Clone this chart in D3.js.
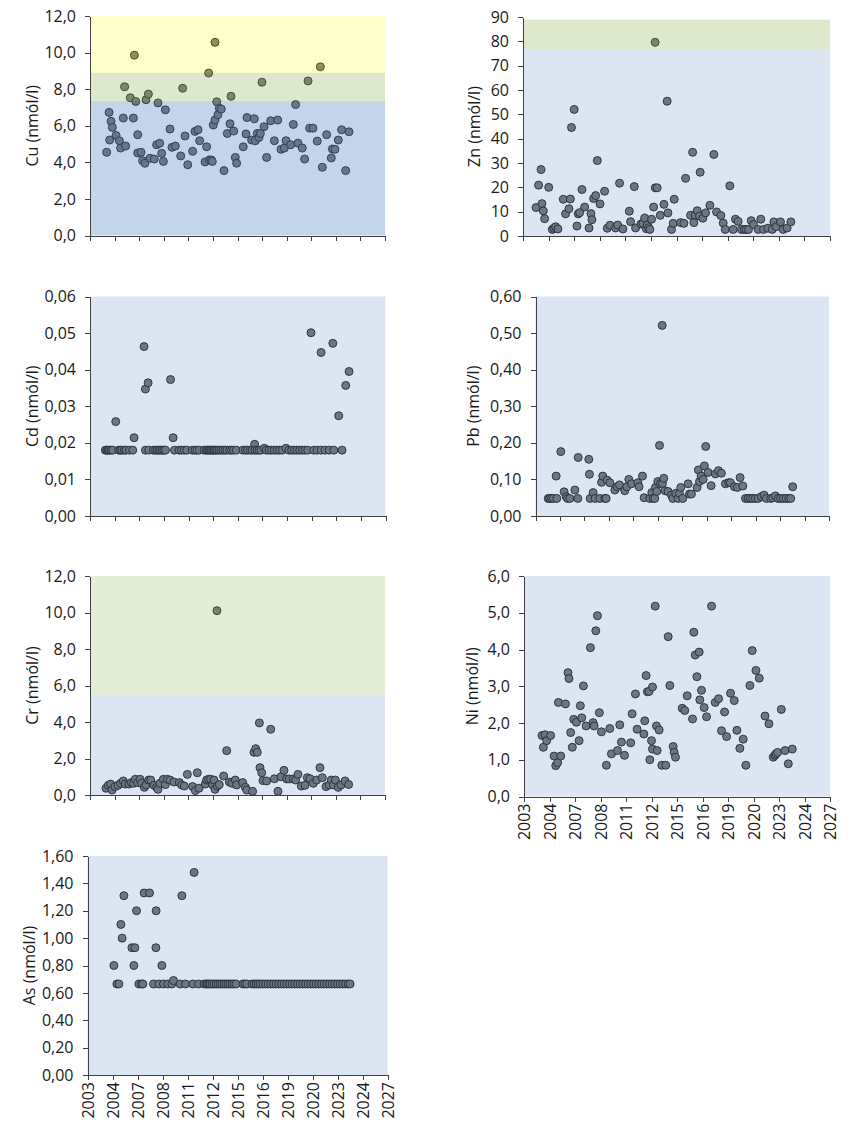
<!DOCTYPE html>
<head>
  <meta charset="utf-8">
  <script src="https://d3js.org/d3.v7.min.js"></script>
  <style>
    body{ margin: 0; background: #ffffff; }
    text{
      font-family: "Open Sans", sans-serif;
      fill: #1a1a1a;
    }
    .tick text{ font-size: 16px; }
    text.yTitle{ font-size: 16px; }
    .tick line, path.domain{
      stroke: #404040;
      shape-rendering: crispEdges;
    }
  </style>
</head>

<body>
  <script>
    // x axis: one tick every two years, labels as printed on the chart
    const xTicks = [2003, 2005, 2007, 2009, 2011, 2013, 2015, 2017, 2019, 2021, 2023, 2025, 2027];
    const xTickLabels = ['2003', '2004', '2007', '2008', '2011', '2012', '2015', '2016', '2019', '2020', '2023', '2024', '2027'];

    // y ticks per metal
    const cuTicks = [0, 2, 4, 6, 8, 10, 12];
    const znTicks = [0, 10, 20, 30, 40, 50, 60, 70, 80, 90];
    const cdTicks = [0, 0.01, 0.02, 0.03, 0.04, 0.05, 0.06];
    const pbTicks = [0, 0.1, 0.2, 0.3, 0.4, 0.5, 0.6];
    const crTicks = [0, 2, 4, 6, 8, 10, 12];
    const niTicks = [0, 1, 2, 3, 4, 5, 6];
    const asTicks = [0, 0.2, 0.4, 0.6, 0.8, 1.0, 1.2, 1.4, 1.6];

    // background classes (value ranges)
    const cuBands = [[0, 7.35], [7.35, 8.9], [8.9, 12]];
    const znBands = [[0, 76.8], [76.8, 88.9]];
    const cdBands = [[0, 0.06]];
    const pbBands = [[0, 0.6]];
    const crBands = [[0, 5.48], [5.48, 12]];
    const niBands = [[0, 6]];
    const asBands = [[0, 1.6]];

    // measurements [decimal year, nmól/l]
    const cuData = [[2004.36,4.55],[2004.55,6.73],[2004.60,5.22],[2004.71,6.24],[2004.82,5.91],[2005.12,5.47],[2005.39,5.18],[2005.49,4.78],[2005.71,6.42],[2005.82,8.13],[2005.90,4.89],[2006.28,7.53],[2006.53,6.42],[2006.61,9.86],[2006.72,7.33],[2006.88,5.51],[2006.88,4.51],[2007.15,4.55],[2007.28,4.09],[2007.47,3.95],[2007.56,7.42],[2007.75,7.73],[2007.88,4.22],[2008.23,4.18],[2008.42,4.96],[2008.53,7.25],[2008.67,5.04],[2008.83,4.49],[2008.97,4.05],[2009.13,6.87],[2009.51,5.82],[2009.67,4.82],[2009.94,4.89],[2010.38,4.35],[2010.54,8.05],[2010.73,5.44],[2010.95,3.87],[2011.35,4.60],[2011.54,5.69],[2011.79,5.78],[2011.92,5.18],[2012.36,4.02],[2012.49,4.85],[2012.65,8.88],[2012.71,4.13],[2012.87,4.13],[2012.95,4.05],[2013.03,6.04],[2013.17,10.56],[2013.17,6.31],[2013.31,7.31],[2013.41,6.60],[2013.52,6.96],[2013.68,6.91],[2013.90,3.55],[2014.17,5.58],[2014.39,6.11],[2014.47,7.61],[2014.69,5.71],[2014.82,4.27],[2014.93,3.95],[2015.47,4.85],[2015.69,5.55],[2015.77,6.45],[2016.15,5.22],[2016.37,6.38],[2016.45,5.18],[2016.61,5.58],[2016.75,5.36],[2016.86,5.58],[2016.99,8.38],[2017.16,5.95],[2017.37,4.27],[2017.70,6.27],[2018.00,5.18],[2018.27,6.31],[2018.54,4.71],[2018.81,4.78],[2018.95,5.18],[2019.33,4.96],[2019.54,6.07],[2019.73,7.16],[2019.92,5.05],[2020.27,4.78],[2020.46,4.18],[2020.74,8.45],[2020.87,5.87],[2021.14,5.87],[2021.49,5.16],[2021.74,9.22],[2021.90,3.73],[2022.25,5.51],[2022.63,4.24],[2022.72,4.73],[2022.93,4.71],[2023.20,5.22],[2023.47,5.78],[2023.80,3.55],[2024.07,5.67]];

    const znData = [[2004.02,11.7],[2004.22,20.9],[2004.41,27.3],[2004.48,13.3],[2004.59,10.3],[2004.69,7.1],[2005.01,20.0],[2005.29,2.7],[2005.42,3.2],[2005.55,3.8],[2005.73,2.9],[2006.15,15.1],[2006.33,9.1],[2006.59,11.2],[2006.70,15.2],[2006.79,44.6],[2007.00,52.0],[2007.22,4.1],[2007.32,9.1],[2007.43,9.6],[2007.61,19.1],[2007.82,11.9],[2008.16,3.3],[2008.31,9.2],[2008.39,6.7],[2008.52,15.4],[2008.68,16.6],[2008.81,31.0],[2009.02,13.2],[2009.38,18.4],[2009.59,3.2],[2009.80,4.4],[2010.24,3.3],[2010.40,4.5],[2010.55,21.7],[2010.81,2.9],[2011.31,10.2],[2011.41,5.9],[2011.70,20.3],[2011.80,3.3],[2012.22,4.9],[2012.38,5.2],[2012.51,7.4],[2012.64,3.0],[2012.71,4.4],[2012.82,3.4],[2012.92,2.7],[2013.05,6.9],[2013.21,11.9],[2013.33,79.6],[2013.34,19.8],[2013.49,19.8],[2013.73,8.5],[2014.02,13.0],[2014.27,55.4],[2014.33,9.5],[2014.61,2.7],[2014.74,5.2],[2014.82,15.1],[2015.32,5.5],[2015.58,5.2],[2015.71,23.7],[2016.10,8.5],[2016.26,34.4],[2016.36,5.5],[2016.46,8.6],[2016.62,10.4],[2016.80,8.2],[2016.85,26.2],[2017.06,7.3],[2017.27,9.5],[2017.61,12.6],[2017.92,33.5],[2018.13,9.9],[2018.47,8.4],[2018.65,5.3],[2018.81,2.7],[2019.17,20.6],[2019.43,2.7],[2019.61,6.9],[2019.82,6.0],[2020.08,2.7],[2020.29,2.7],[2020.45,2.7],[2020.63,2.7],[2020.84,6.3],[2021.02,4.7],[2021.39,2.7],[2021.59,6.9],[2021.80,2.7],[2022.14,3.2],[2022.48,2.7],[2022.61,5.8],[2022.79,3.8],[2023.13,5.8],[2023.34,2.7],[2023.65,3.3],[2023.94,5.8]];

    const cdData = [[2004.25,0.018],[2004.36,0.018],[2004.46,0.018],[2004.57,0.018],[2004.71,0.018],[2004.84,0.018],[2005.09,0.0258],[2005.33,0.018],[2005.47,0.018],[2005.60,0.018],[2005.79,0.018],[2005.93,0.018],[2006.20,0.018],[2006.47,0.018],[2006.58,0.0214],[2007.39,0.0463],[2007.50,0.0347],[2007.50,0.018],[2007.72,0.0364],[2007.77,0.018],[2008.15,0.018],[2008.32,0.018],[2008.45,0.018],[2008.59,0.018],[2008.72,0.018],[2008.86,0.018],[2008.99,0.018],[2009.13,0.018],[2009.54,0.0373],[2009.75,0.0214],[2009.86,0.018],[2010.24,0.018],[2010.43,0.018],[2010.65,0.018],[2010.86,0.018],[2011.30,0.018],[2011.52,0.018],[2011.68,0.018],[2011.89,0.018],[2012.27,0.018],[2012.44,0.018],[2012.55,0.018],[2012.65,0.018],[2012.76,0.018],[2012.87,0.018],[2012.98,0.018],[2013.09,0.018],[2013.20,0.018],[2013.31,0.018],[2013.47,0.018],[2013.63,0.018],[2013.79,0.018],[2013.96,0.018],[2014.12,0.018],[2014.34,0.018],[2014.50,0.018],[2014.66,0.018],[2014.88,0.018],[2015.42,0.018],[2015.64,0.018],[2015.80,0.018],[2016.02,0.018],[2016.18,0.018],[2016.37,0.0196],[2016.40,0.018],[2016.56,0.018],[2016.72,0.018],[2016.88,0.018],[2017.16,0.0185],[2017.32,0.018],[2017.54,0.018],[2017.75,0.018],[2017.97,0.018],[2018.19,0.018],[2018.40,0.018],[2018.62,0.018],[2018.92,0.0185],[2019.16,0.018],[2019.38,0.018],[2019.60,0.018],[2019.81,0.018],[2020.03,0.018],[2020.25,0.018],[2020.46,0.018],[2020.68,0.018],[2020.95,0.0501],[2021.17,0.018],[2021.44,0.018],[2021.77,0.0447],[2021.77,0.018],[2022.09,0.018],[2022.42,0.018],[2022.72,0.0472],[2022.80,0.018],[2023.20,0.0274],[2023.47,0.018],[2023.77,0.0357],[2024.04,0.0395]];

    const pbData = [[2004.04,0.048],[2004.17,0.048],[2004.31,0.048],[2004.47,0.048],[2004.69,0.109],[2004.74,0.048],[2005.07,0.176],[2005.34,0.066],[2005.51,0.053],[2005.62,0.048],[2005.81,0.048],[2006.22,0.071],[2006.46,0.048],[2006.49,0.160],[2007.36,0.155],[2007.41,0.114],[2007.47,0.048],[2007.71,0.064],[2007.88,0.048],[2008.26,0.048],[2008.40,0.092],[2008.50,0.109],[2008.67,0.048],[2008.78,0.048],[2008.86,0.098],[2009.08,0.091],[2009.49,0.071],[2009.68,0.080],[2009.87,0.085],[2010.30,0.069],[2010.47,0.080],[2010.63,0.100],[2010.85,0.088],[2011.37,0.091],[2011.47,0.080],[2011.75,0.109],[2011.88,0.050],[2012.35,0.048],[2012.51,0.064],[2012.62,0.048],[2012.75,0.048],[2012.81,0.078],[2012.92,0.067],[2013.00,0.094],[2013.14,0.193],[2013.22,0.089],[2013.36,0.521],[2013.38,0.089],[2013.49,0.103],[2013.60,0.069],[2013.84,0.067],[2014.12,0.057],[2014.23,0.048],[2014.47,0.062],[2014.66,0.048],[2014.77,0.062],[2014.88,0.078],[2015.04,0.048],[2015.48,0.088],[2015.59,0.060],[2015.75,0.060],[2016.21,0.078],[2016.32,0.126],[2016.41,0.094],[2016.54,0.109],[2016.71,0.100],[2016.81,0.137],[2016.92,0.190],[2017.11,0.119],[2017.36,0.083],[2017.71,0.115],[2017.96,0.124],[2018.20,0.117],[2018.53,0.088],[2018.80,0.091],[2018.94,0.091],[2019.27,0.080],[2019.51,0.078],[2019.73,0.105],[2019.95,0.082],[2020.17,0.048],[2020.38,0.048],[2020.57,0.048],[2020.76,0.048],[2020.98,0.048],[2021.20,0.048],[2021.47,0.053],[2021.69,0.057],[2021.88,0.048],[2022.24,0.048],[2022.40,0.050],[2022.62,0.055],[2022.84,0.048],[2023.05,0.048],[2023.27,0.048],[2023.49,0.048],[2023.71,0.048],[2023.87,0.048],[2024.03,0.080]];

    const crData = [[2004.30,0.37],[2004.49,0.53],[2004.68,0.60],[2004.79,0.27],[2005.03,0.46],[2005.28,0.53],[2005.49,0.64],[2005.71,0.77],[2005.87,0.60],[2006.17,0.60],[2006.36,0.68],[2006.55,0.64],[2006.69,0.86],[2006.88,0.68],[2007.07,0.86],[2007.20,0.64],[2007.42,0.42],[2007.56,0.55],[2007.77,0.82],[2007.94,0.82],[2008.21,0.53],[2008.42,0.42],[2008.53,0.31],[2008.69,0.64],[2008.97,0.86],[2009.13,0.57],[2009.29,0.86],[2009.51,0.82],[2009.83,0.71],[2010.27,0.68],[2010.46,0.55],[2010.67,0.49],[2010.92,1.13],[2011.35,0.46],[2011.57,0.24],[2011.73,1.22],[2011.87,0.37],[2012.38,0.60],[2012.49,0.82],[2012.65,0.86],[2012.82,0.86],[2012.98,0.55],[2013.09,0.82],[2013.17,0.31],[2013.33,10.10],[2013.36,0.49],[2013.52,0.57],[2013.87,1.04],[2014.12,2.43],[2014.34,0.71],[2014.55,0.64],[2014.82,0.82],[2014.93,0.55],[2015.42,0.68],[2015.64,0.42],[2015.75,0.27],[2016.23,0.20],[2016.34,2.34],[2016.48,2.54],[2016.61,2.34],[2016.78,3.95],[2016.83,1.50],[2016.97,1.22],[2017.07,0.79],[2017.37,0.77],[2017.70,3.60],[2018.00,0.89],[2018.29,0.20],[2018.54,1.00],[2018.78,1.35],[2019.00,0.88],[2019.22,0.88],[2019.54,0.88],[2019.73,0.82],[2019.92,1.13],[2020.19,0.49],[2020.49,0.53],[2020.68,0.95],[2020.90,0.89],[2021.17,0.64],[2021.44,0.82],[2021.71,1.50],[2021.90,0.95],[2022.20,0.46],[2022.47,0.55],[2022.63,0.82],[2022.80,0.55],[2022.96,0.82],[2023.20,0.42],[2023.42,0.55],[2023.75,0.77],[2024.04,0.58]];

    const niData = [[2004.41,1.66],[2004.52,1.34],[2004.65,1.68],[2004.78,1.52],[2005.09,1.66],[2005.36,1.10],[2005.49,0.84],[2005.64,0.92],[2005.70,2.56],[2005.88,1.10],[2006.25,2.52],[2006.45,3.37],[2006.53,3.21],[2006.66,1.74],[2006.79,1.34],[2006.90,2.10],[2007.11,2.02],[2007.32,1.52],[2007.42,2.47],[2007.53,2.14],[2007.66,3.01],[2007.87,1.92],[2008.21,4.05],[2008.42,2.01],[2008.50,1.92],[2008.63,4.51],[2008.76,4.92],[2008.91,2.28],[2009.07,1.76],[2009.46,0.85],[2009.73,1.85],[2009.86,1.16],[2010.33,1.25],[2010.51,1.95],[2010.64,1.48],[2010.88,1.12],[2011.37,1.46],[2011.48,2.25],[2011.74,2.79],[2011.87,1.83],[2012.40,1.70],[2012.47,2.06],[2012.58,3.29],[2012.68,2.85],[2012.81,2.86],[2012.87,1.00],[2013.00,1.52],[2013.08,2.98],[2013.08,1.29],[2013.29,5.18],[2013.39,1.92],[2013.44,1.25],[2013.60,1.81],[2013.81,0.85],[2014.12,0.85],[2014.31,4.35],[2014.44,3.02],[2014.70,1.36],[2014.78,1.20],[2014.88,1.07],[2015.41,2.40],[2015.61,2.34],[2015.80,2.74],[2016.22,2.11],[2016.32,4.47],[2016.43,3.85],[2016.56,3.26],[2016.74,3.93],[2016.79,2.63],[2016.92,2.89],[2017.13,2.42],[2017.32,2.17],[2017.71,5.18],[2018.00,2.56],[2018.26,2.66],[2018.49,1.79],[2018.73,2.30],[2018.89,1.63],[2019.20,2.81],[2019.49,2.61],[2019.70,1.80],[2019.93,1.31],[2020.19,1.56],[2020.40,0.85],[2020.72,3.02],[2020.90,3.97],[2021.19,3.43],[2021.45,3.22],[2021.90,2.19],[2022.21,1.98],[2022.55,1.07],[2022.68,1.12],[2022.76,1.16],[2022.89,1.20],[2023.18,2.37],[2023.47,1.25],[2023.73,0.89],[2024.04,1.29]];

    const asData = [[2005.11,0.80],[2005.35,0.665],[2005.51,0.665],[2005.67,1.10],[2005.77,1.00],[2005.91,1.31],[2006.55,0.93],[2006.71,0.80],[2006.79,0.93],[2006.92,1.20],[2007.11,0.665],[2007.32,0.665],[2007.43,0.665],[2007.53,1.33],[2007.96,1.33],[2008.28,0.665],[2008.47,0.93],[2008.49,1.20],[2008.71,0.665],[2008.95,0.80],[2009.08,0.665],[2009.43,0.665],[2009.75,0.665],[2009.88,0.69],[2010.41,0.665],[2010.55,1.31],[2010.84,0.665],[2011.43,0.665],[2011.53,1.48],[2011.88,0.665],[2012.33,0.665],[2012.49,0.665],[2012.60,0.665],[2012.71,0.665],[2012.81,0.665],[2012.97,0.665],[2013.13,0.665],[2013.29,0.665],[2013.45,0.665],[2013.61,0.665],[2013.77,0.665],[2013.93,0.665],[2014.09,0.665],[2014.25,0.665],[2014.41,0.665],[2014.57,0.665],[2014.73,0.665],[2014.89,0.665],[2015.43,0.665],[2015.59,0.665],[2015.75,0.665],[2016.17,0.665],[2016.33,0.665],[2016.49,0.665],[2016.65,0.665],[2016.81,0.665],[2017.03,0.665],[2017.24,0.665],[2017.45,0.665],[2017.67,0.665],[2017.88,0.665],[2018.09,0.665],[2018.31,0.665],[2018.52,0.665],[2018.73,0.665],[2018.95,0.665],[2019.16,0.665],[2019.37,0.665],[2019.59,0.665],[2019.80,0.665],[2020.01,0.665],[2020.23,0.665],[2020.44,0.665],[2020.65,0.665],[2020.87,0.665],[2021.08,0.665],[2021.29,0.665],[2021.51,0.665],[2021.72,0.665],[2021.93,0.665],[2022.15,0.665],[2022.36,0.665],[2022.57,0.665],[2022.79,0.665],[2023.00,0.665],[2023.21,0.665],[2023.43,0.665],[2023.64,0.665],[2023.85,0.665],[2024.01,0.665]];

    // band look: overlay colour + opacity drawn above the markers (as in the original)
    const bandStyle = {
      blue:     {fill: '#4f81bd', opacity: 0.2},
      blueDark: {fill: '#4f81bd', opacity: 0.33},
      green:    {fill: '#8db45a', opacity: 0.3},
      greenLt:  {fill: '#8db45a', opacity: 0.24},
      yellow:   {fill: '#ffff00', opacity: 0.2}
    };

    const panels = [
      {title: 'Cu (nmól/l)', data: cuData, ticks: cuTicks, digits: 1, bands: cuBands, looks: ['blueDark', 'green', 'yellow'],
       left: 90, top: 16, width: 295, height: 219.5, titleX: 32, xLabels: false},
      {title: 'Zn (nmól/l)', data: znData, ticks: znTicks, digits: 0, bands: znBands, looks: ['blue', 'green'],
       left: 523, top: 17, width: 307, height: 219, titleX: 474, xLabels: false},
      {title: 'Cd (nmól/l)', data: cdData, ticks: cdTicks, digits: 2, bands: cdBands, looks: ['blue'],
       left: 90, top: 296.5, width: 295.5, height: 219.5, titleX: 32, xLabels: false},
      {title: 'Pb (nmól/l)', data: pbData, ticks: pbTicks, digits: 2, bands: pbBands, looks: ['blue'],
       left: 535.5, top: 296.5, width: 293.5, height: 219.5, titleX: 473, xLabels: false},
      {title: 'Cr (nmól/l)', data: crData, ticks: crTicks, digits: 1, bands: crBands, looks: ['blue', 'greenLt'],
       left: 90, top: 576, width: 295, height: 219, titleX: 32, xLabels: false},
      {title: 'Ni (nmól/l)', data: niData, ticks: niTicks, digits: 1, bands: niBands, looks: ['blue'],
       left: 524, top: 576, width: 306, height: 220.5, titleX: 472, xLabels: true},
      {title: 'As (nmól/l)', data: asData, ticks: asTicks, digits: 2, bands: asBands, looks: ['blue'],
       left: 87.5, top: 856, width: 300, height: 219, titleX: 29, xLabels: true}
    ];

    const locale = d3.formatLocale({decimal: ',', thousands: '.', grouping: [3], currency: ['', '']});

    const svg = d3.select('body').append('svg')
      .attr('width', 861)
      .attr('height', 1125);

    panels.forEach(p => {
      const yMax = p.ticks[p.ticks.length - 1];

      let x = d3.scaleLinear()
        .domain([xTicks[0], xTicks[xTicks.length - 1]])
        .range([p.left, p.left + p.width]);

      let y = d3.scaleLinear()
        .domain([0, yMax])
        .range([p.top + p.height, p.top]);

      const g = svg.append('g').attr('class', 'panel');

      //markers first, the coloured classes are laid over them
      g.selectAll('circle.dot')
        .data(p.data)
        .enter()
        .append('circle')
        .attr('class', 'dot')
        .attr('cx', d => x(d[0]))
        .attr('cy', d => y(d[1]))
        .attr('r', 4)
        .style('fill', '#737373')
        .style('stroke', '#1a1a1a')
        .style('stroke-width', 0.9);

      g.selectAll('rect.band')
        .data(p.bands)
        .enter()
        .append('rect')
        .attr('class', 'band')
        .attr('x', x.range()[0])
        .attr('width', x.range()[1] - x.range()[0])
        .attr('y', d => y(d[1]))
        .attr('height', d => y(d[0]) - y(d[1]))
        .style('fill', (d, i) => bandStyle[p.looks[i]].fill)
        .style('opacity', (d, i) => bandStyle[p.looks[i]].opacity);

      //y axis
      g.append('g')
        .attr('class', 'axis yAxis')
        .attr('transform', `translate(${p.left}, 0)`)
        .call(d3.axisLeft(y)
          .tickValues(p.ticks)
          .tickSize(5)
          .tickPadding(9)
          .tickSizeOuter(0)
          .tickFormat(locale.format(`.${p.digits}f`)));

      //x axis
      const xAxis = g.append('g')
        .attr('class', 'axis xAxis')
        .attr('transform', `translate(0, ${p.top + p.height})`)
        .call(d3.axisBottom(x)
          .tickValues(xTicks)
          .tickSize(5)
          .tickSizeOuter(0)
          .tickFormat((d, i) => p.xLabels ? xTickLabels[i] : ''));

      xAxis.selectAll('.tick text')
        .attr('transform', 'rotate(-90)')
        .attr('x', -7)
        .attr('y', 0)
        .attr('dy', '0.35em')
        .style('text-anchor', 'end');

      //axis title
      g.append('text')
        .attr('class', 'yTitle')
        .attr('transform', `translate(${p.titleX}, ${p.top + p.height / 2}) rotate(-90)`)
        .attr('dy', '0.35em')
        .style('text-anchor', 'middle')
        .text(p.title);
    });
  </script>
</body>
